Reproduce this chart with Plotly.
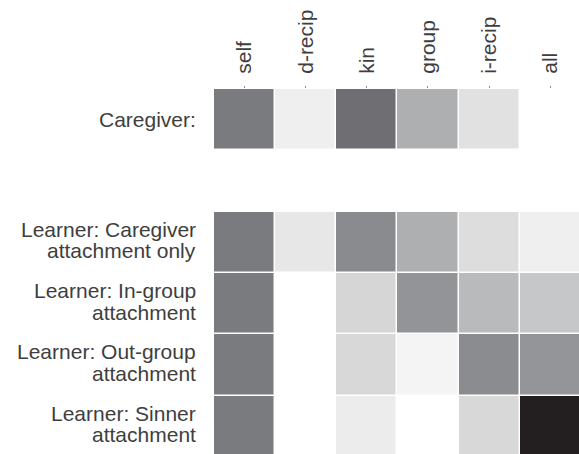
import plotly.graph_objects as go

columns = ["self", "d-recip", "kin", "group", "i-recip", "all"]
row_lines = [
    ["Caregiver:"],
    [],
    ["Learner: Caregiver", "attachment only"],
    ["Learner: In-group", "attachment"],
    ["Learner: Out-group", "attachment"],
    ["Learner: Sinner", "attachment"],
]

caregiver = [0.60, 0.073, 0.65, 0.364, 0.136, 0.0]
spacer = [None, None, None, None, None, None]
learner_caregiver = [0.60, 0.109, 0.527, 0.364, 0.155, 0.073]
learner_ingroup = [0.60, 0.0, 0.186, 0.486, 0.314, 0.255]
learner_outgroup = [0.60, 0.0, 0.177, 0.05, 0.523, 0.482]
learner_sinner = [0.60, 0.0, 0.086, 0.0, 0.177, 1.0]

z = [caregiver, spacer, learner_caregiver, learner_ingroup, learner_outgroup, learner_sinner]

fig = go.Figure(
    go.Heatmap(
        z=z,
        x=list(range(len(columns))),
        y=list(range(len(row_lines))),
        zmin=0,
        zmax=1,
        colorscale=[[0, "#ffffff"], [0.6, "#7a7b7f"], [1, "#231f20"]],
        showscale=False,
        xgap=1.5,
        ygap=1.5,
        hoverongaps=False,
    )
)

font_family = "Liberation Sans, Arial, Helvetica, sans-serif"
text_color = "#3e3e3e"

annotations = []
for i, lines in enumerate(row_lines):
    if len(lines) == 1:
        shifts = [0]
    elif len(lines) == 2:
        shifts = [13, -8.6]
    else:
        shifts = []
    for line, s in zip(lines, shifts):
        annotations.append(
            dict(
                text=line,
                xref="paper",
                x=0,
                xanchor="right",
                xshift=-16,
                yref="y",
                y=i,
                yanchor="middle",
                yshift=s,
                showarrow=False,
                font=dict(size=21, color=text_color, family=font_family),
            )
        )

fig.update_layout(
    width=579,
    height=454,
    margin=dict(l=214, r=0, t=89, b=0),
    paper_bgcolor="white",
    plot_bgcolor="white",
    font=dict(family=font_family, color=text_color),
    annotations=annotations,
)

fig.update_xaxes(
    side="top",
    range=[-0.5, 5.47],
    tickmode="array",
    tickvals=list(range(len(columns))),
    ticktext=columns,
    tickangle=-90,
    tickfont=dict(size=21, color=text_color),
    ticks="outside",
    ticklen=2,
    tickcolor="#888888",
    ticklabelstandoff=8,
    showgrid=False,
    zeroline=False,
    showline=False,
    automargin=False,
)

fig.update_yaxes(
    range=[5.454, -0.5],
    showticklabels=False,
    ticks="",
    showgrid=False,
    zeroline=False,
    showline=False,
    automargin=False,
)

fig.write_html(
    "out.html",
    config={"displayModeBar": False},
    post_script="document.body.style.margin='0';document.body.style.overflow='hidden';",
)
